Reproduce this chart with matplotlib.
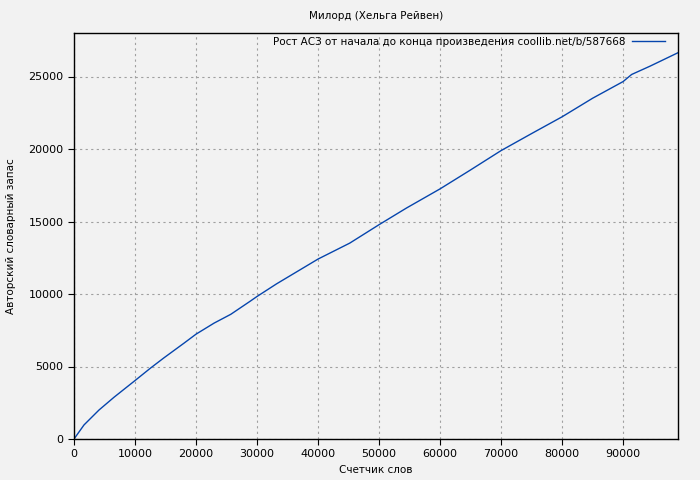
import matplotlib
matplotlib.use('Agg')
import matplotlib.pyplot as plt

# слова (счетчик) и авторский словарный запас
words = [0, 1640, 4100, 6560, 10000, 12570, 14750, 18030, 20000, 22950,
         25700, 28800, 30000, 33200, 40000, 45200, 50000, 54500, 60000,
         64900, 70000, 75200, 80000, 85000, 90000, 91400, 94400, 99000]
vocab = [0, 970, 2000, 2880, 4030, 4900, 5600, 6610, 7230, 7990,
         8600, 9480, 9830, 10700, 12410, 13510, 14780, 15930, 17250,
         18530, 19890, 21110, 22220, 23500, 24650, 25140, 25710, 26640]

title = 'Милорд (Хельга Рейвен)'
legend_label = 'Рост АСЗ от начала до конца произведения coollib.net/b/587668'
bg = '#f2f2f2'

fig = plt.figure(figsize=(7, 4.8), dpi=100, facecolor=bg)
ax = fig.add_axes([74 / 700, 41 / 480, 604 / 700, 406 / 480], facecolor=bg)

ax.plot(words, vocab, color='#0645ad', linewidth=1, label=legend_label)

ax.set_xlim(0, 99000)
ax.set_ylim(0, 28000)
ax.set_xticks(range(0, 99000, 10000))
ax.set_yticks(range(0, 28000, 5000))
ax.grid(True, color='#a0a0a0', linestyle=(0, (2, 3)), linewidth=0.8)
ax.tick_params(labelsize=8, length=4, direction='out', top=False, right=False)
for side in ['top', 'right', 'bottom', 'left']:
    ax.spines[side].set_linewidth(1)

ax.set_xlabel('Счетчик слов', fontsize=7.5, labelpad=4)
ax.set_ylabel('Авторский словарный запас', fontsize=7.5, labelpad=9)
fig.text(376 / 700, 1 - 16 / 480, title, ha='center', va='center', fontsize=7.5)

leg = ax.legend(loc='upper right', frameon=False, fontsize=7.5, markerfirst=False,
                handlelength=3.2, handletextpad=0.6,
                bbox_to_anchor=(669 / 700, 1 - 33 / 480), bbox_transform=fig.transFigure,
                borderaxespad=0, borderpad=0.35)

fig.savefig('out.png', dpi=100, facecolor=bg)
